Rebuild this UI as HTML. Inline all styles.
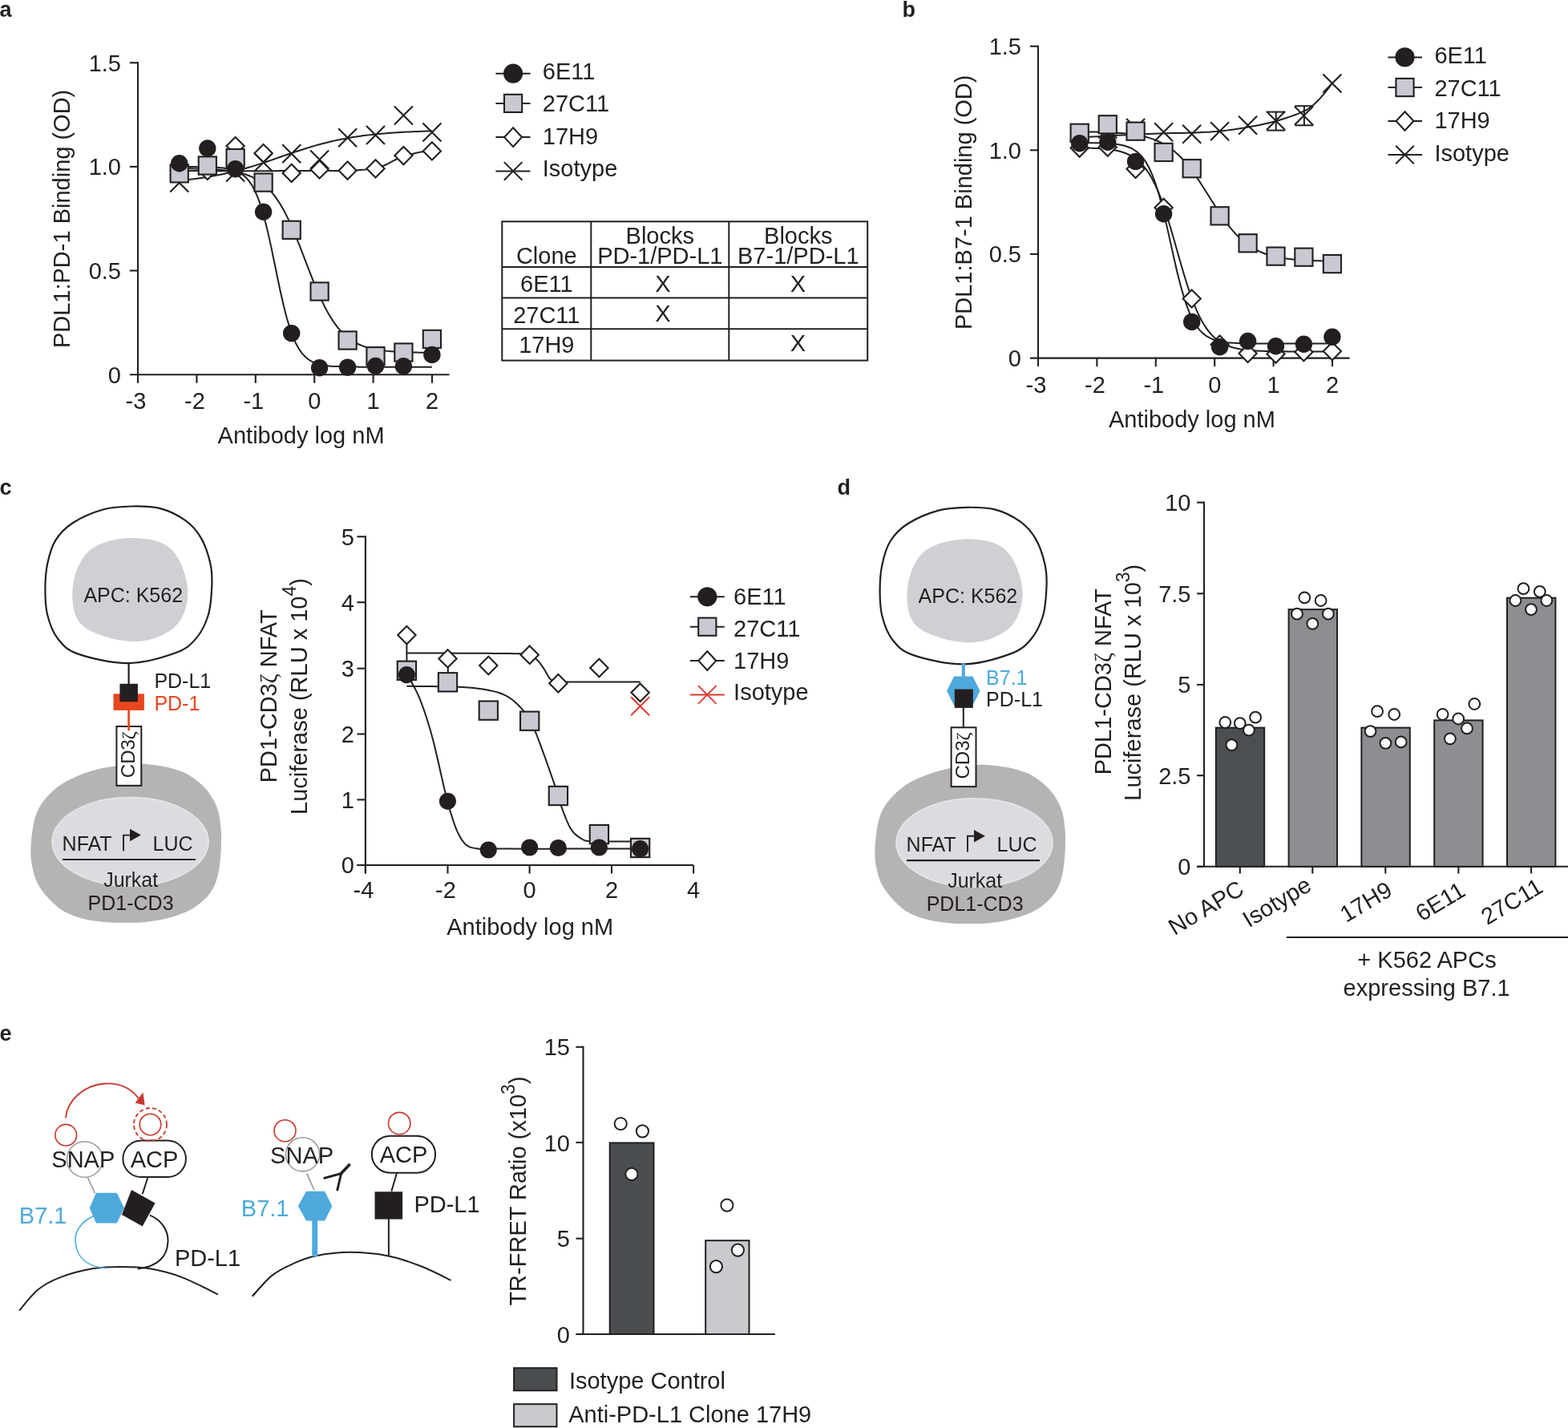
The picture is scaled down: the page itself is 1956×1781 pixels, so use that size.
<!DOCTYPE html><html><head><meta charset="utf-8"><style>html,body{margin:0;padding:0;background:#fff;}svg{display:block;}</style></head><body>
<svg width="1956" height="1781" viewBox="0 0 1956 1781" font-family='"Liberation Sans", Arial, Helvetica, sans-serif'>
<rect width="1956" height="1781" fill="#fff"/>
<text x="-0.5" y="20.8" font-size="27" text-anchor="start" fill="#231f20" font-weight="bold" >a</text>
<line x1="172" y1="77.3" x2="172" y2="477.7" stroke="#231f20" stroke-width="2.1" />
<line x1="161.9" y1="467.2" x2="560.5" y2="467.2" stroke="#231f20" stroke-width="2.1" />
<line x1="161.9" y1="78.3" x2="172" y2="78.3" stroke="#231f20" stroke-width="2.1" />
<line x1="161.9" y1="207.9" x2="172" y2="207.9" stroke="#231f20" stroke-width="2.1" />
<line x1="161.9" y1="337.5" x2="172" y2="337.5" stroke="#231f20" stroke-width="2.1" />
<line x1="245.4" y1="467.2" x2="245.4" y2="477.7" stroke="#231f20" stroke-width="2.1" />
<line x1="318.8" y1="467.2" x2="318.8" y2="477.7" stroke="#231f20" stroke-width="2.1" />
<line x1="392.2" y1="467.2" x2="392.2" y2="477.7" stroke="#231f20" stroke-width="2.1" />
<line x1="465.6" y1="467.2" x2="465.6" y2="477.7" stroke="#231f20" stroke-width="2.1" />
<line x1="539" y1="467.2" x2="539" y2="477.7" stroke="#231f20" stroke-width="2.1" />
<text x="151" y="88.7" font-size="29" text-anchor="end" fill="#231f20" >1.5</text>
<text x="151" y="218.3" font-size="29" text-anchor="end" fill="#231f20" >1.0</text>
<text x="151" y="347.9" font-size="29" text-anchor="end" fill="#231f20" >0.5</text>
<text x="151" y="477.6" font-size="29" text-anchor="end" fill="#231f20" >0</text>
<text x="169.5" y="510.1" font-size="29" text-anchor="middle" fill="#231f20" >-3</text>
<text x="242.9" y="510.1" font-size="29" text-anchor="middle" fill="#231f20" >-2</text>
<text x="316.3" y="510.1" font-size="29" text-anchor="middle" fill="#231f20" >-1</text>
<text x="392.2" y="510.1" font-size="29" text-anchor="middle" fill="#231f20" >0</text>
<text x="465.6" y="510.1" font-size="29" text-anchor="middle" fill="#231f20" >1</text>
<text x="539" y="510.1" font-size="29" text-anchor="middle" fill="#231f20" >2</text>
<text x="375.6" y="553.4" font-size="29" text-anchor="middle" fill="#231f20" >Antibody log nM</text>
<path d="M223.7 225.14L227.64 224.76L231.58 224.36L235.52 223.93L239.46 223.47L243.4 222.98L247.34 222.45L251.28 221.9L255.22 221.3L259.16 220.67L263.1 220.01L267.04 219.3L270.98 218.55L274.92 217.77L278.86 216.94L282.8 216.07L286.74 215.15L290.68 214.2L294.62 213.2L298.56 212.16L302.5 211.08L306.44 209.96L310.38 208.8L314.32 207.61L318.26 206.38L322.2 205.12L326.14 203.84L330.08 202.53L334.02 201.2L337.96 199.86L341.9 198.5L345.84 197.13L349.78 195.76L353.72 194.4L357.66 193.03L361.6 191.68L365.54 190.34L369.48 189.02L373.42 187.72L377.36 186.44L381.3 185.19L385.24 183.98L389.18 182.8L393.12 181.65L397.06 180.55L401 179.48L404.94 178.45L408.88 177.47L412.82 176.53L416.76 175.63L420.7 174.77L424.64 173.96L428.58 173.18L432.52 172.45L436.46 171.76L440.4 171.1L444.34 170.49L448.28 169.91L452.22 169.36L456.16 168.85L460.1 168.37L464.04 167.92L467.98 167.5L471.92 167.1L475.86 166.74L479.8 166.39L483.74 166.07L487.68 165.78L491.62 165.5L495.56 165.24L499.5 165L503.44 164.78L507.38 164.57L511.32 164.38L515.26 164.2L519.2 164.04L523.14 163.88L527.08 163.74L531.02 163.61L534.96 163.49L538.9 163.37" fill="none" stroke="#231f20" stroke-width="2" stroke-linejoin="round"/>
<path d="M223.7 213L232.02 213.04L243.55 213.1L257.2 213.17L271.88 213.23L286.51 213.28L300 213.3L312.85 213.28L326.02 213.23L339.14 213.17L351.83 213.1L363.71 213.04L374.4 213L383.84 212.99L392.32 213L399.99 213.03L406.99 213.04L413.48 213.04L419.6 213L425.23 212.94L430.24 212.86L434.74 212.76L438.82 212.64L442.61 212.49L446.2 212.3L449.44 212.09L452.21 211.87L454.67 211.62L457.01 211.32L459.4 210.95L462 210.5L464.85 209.97L467.83 209.37L470.86 208.71L473.84 207.98L476.72 207.18L479.4 206.3L481.88 205.29L484.21 204.14L486.43 202.92L488.57 201.69L490.65 200.53L492.7 199.5L494.7 198.6L496.61 197.79L498.48 197.03L500.31 196.33L502.14 195.65L504 195L505.88 194.37L507.74 193.78L509.61 193.22L511.48 192.7L513.38 192.19L515.3 191.7L517.26 191.22L519.26 190.75L521.28 190.31L523.3 189.89L525.32 189.52L527.3 189.2L529.39 188.93L531.63 188.72L533.85 188.54L535.91 188.4L537.64 188.29L538.9 188.2" fill="none" stroke="#231f20" stroke-width="2" stroke-linejoin="round"/>
<path d="M223.7 210.18L227.64 210.22L231.58 210.26L235.52 210.31L239.46 210.37L243.4 210.44L247.34 210.53L251.28 210.63L255.22 210.76L259.16 210.91L263.1 211.08L267.04 211.29L270.98 211.54L274.92 211.85L278.86 212.2L282.8 212.63L286.74 213.14L290.68 213.75L294.62 214.47L298.56 215.32L302.5 216.34L306.44 217.54L310.38 218.96L314.32 220.64L318.26 222.61L322.2 224.92L326.14 227.62L330.08 230.77L334.02 234.41L337.96 238.6L341.9 243.4L345.84 248.84L349.78 254.97L353.72 261.8L357.66 269.34L361.6 277.56L365.54 286.41L369.48 295.8L373.42 305.64L377.36 315.77L381.3 326.05L385.24 336.31L389.18 346.39L393.12 356.14L397.06 365.43L401 374.16L404.94 382.25L408.88 389.64L412.82 396.33L416.76 402.32L420.7 407.63L424.64 412.3L428.58 416.37L432.52 419.91L436.46 422.96L440.4 425.58L444.34 427.82L448.28 429.73L452.22 431.35L456.16 432.72L460.1 433.88L464.04 434.86L467.98 435.69L471.92 436.39L475.86 436.97L479.8 437.46L483.74 437.87L487.68 438.22L491.62 438.51L495.56 438.75L499.5 438.96L503.44 439.13L507.38 439.27L511.32 439.39L515.26 439.49L519.2 439.57L523.14 439.64L527.08 439.7L531.02 439.75L534.96 439.79L538.9 439.83" fill="none" stroke="#231f20" stroke-width="2" stroke-linejoin="round"/>
<path d="M223.7 208.02L227.64 208.03L231.58 208.04L235.52 208.05L239.46 208.07L243.4 208.1L247.34 208.13L251.28 208.18L255.22 208.25L259.16 208.34L263.1 208.46L267.04 208.62L270.98 208.85L274.92 209.16L278.86 209.57L282.8 210.14L286.74 210.9L290.68 211.93L294.62 213.33L298.56 215.2L302.5 217.71L306.44 221.04L310.38 225.43L314.32 231.15L318.26 238.51L322.2 247.8L326.14 259.25L330.08 272.98L334.02 288.89L337.96 306.61L341.9 325.51L345.84 344.76L349.78 363.45L353.72 380.79L357.66 396.2L361.6 409.38L365.54 420.3L369.48 429.11L373.42 436.05L377.36 441.43L381.3 445.54L385.24 448.66L389.18 451L393.12 452.74L397.06 454.04L401 455L404.94 455.72L408.88 456.24L412.82 456.63L416.76 456.91L420.7 457.12L424.64 457.27L428.58 457.39L432.52 457.47L436.46 457.53L440.4 457.58L444.34 457.61L448.28 457.63L452.22 457.65L456.16 457.66L460.1 457.67L464.04 457.68L467.98 457.69L471.92 457.69L475.86 457.69L479.8 457.69L483.74 457.7L487.68 457.7L491.62 457.7L495.56 457.7L499.5 457.7L503.44 457.7L507.38 457.7L511.32 457.7L515.26 457.7L519.2 457.7L523.14 457.7L527.08 457.7L531.02 457.7L534.96 457.7L538.9 457.7" fill="none" stroke="#231f20" stroke-width="2" stroke-linejoin="round"/>
<path d="M212.2 216.5L235.2 239.5M212.2 239.5L235.2 216.5" stroke="#231f20" stroke-width="2.1" fill="none"/>
<path d="M247.3 195.5L270.3 218.5M247.3 218.5L270.3 195.5" stroke="#231f20" stroke-width="2.1" fill="none"/>
<path d="M282.1 203.5L305.1 226.5M282.1 226.5L305.1 203.5" stroke="#231f20" stroke-width="2.1" fill="none"/>
<path d="M317.1 190.9L340.1 213.9M317.1 213.9L340.1 190.9" stroke="#231f20" stroke-width="2.1" fill="none"/>
<path d="M352.2 180.2L375.2 203.2M352.2 203.2L375.2 180.2" stroke="#231f20" stroke-width="2.1" fill="none"/>
<path d="M387.1 187.5L410.1 210.5M387.1 210.5L410.1 187.5" stroke="#231f20" stroke-width="2.1" fill="none"/>
<path d="M422.1 160.3L445.1 183.3M422.1 183.3L445.1 160.3" stroke="#231f20" stroke-width="2.1" fill="none"/>
<path d="M457 157L480 180M457 180L480 157" stroke="#231f20" stroke-width="2.1" fill="none"/>
<path d="M491.9 132.4L514.9 155.4M491.9 155.4L514.9 132.4" stroke="#231f20" stroke-width="2.1" fill="none"/>
<path d="M527.4 153.6L550.4 176.6M527.4 176.6L550.4 153.6" stroke="#231f20" stroke-width="2.1" fill="none"/>
<path d="M223.7 201.9L234.8 213L223.7 224.1L212.6 213Z" fill="#fff" stroke="#231f20" stroke-width="2.1" stroke-linejoin="miter"/>
<path d="M258.8 201.9L269.9 213L258.8 224.1L247.7 213Z" fill="#fff" stroke="#231f20" stroke-width="2.1" stroke-linejoin="miter"/>
<path d="M293.6 170.9L304.7 182L293.6 193.1L282.5 182Z" fill="#fff" stroke="#231f20" stroke-width="2.1" stroke-linejoin="miter"/>
<path d="M328.6 180L339.7 191.1L328.6 202.2L317.5 191.1Z" fill="#fff" stroke="#231f20" stroke-width="2.1" stroke-linejoin="miter"/>
<path d="M363.7 204.8L374.8 215.9L363.7 227L352.6 215.9Z" fill="#fff" stroke="#231f20" stroke-width="2.1" stroke-linejoin="miter"/>
<path d="M398.6 200.3L409.7 211.4L398.6 222.5L387.5 211.4Z" fill="#fff" stroke="#231f20" stroke-width="2.1" stroke-linejoin="miter"/>
<path d="M433.6 201.6L444.7 212.7L433.6 223.8L422.5 212.7Z" fill="#fff" stroke="#231f20" stroke-width="2.1" stroke-linejoin="miter"/>
<path d="M468.5 199.2L479.6 210.3L468.5 221.4L457.4 210.3Z" fill="#fff" stroke="#231f20" stroke-width="2.1" stroke-linejoin="miter"/>
<path d="M503.4 183L514.5 194.1L503.4 205.2L492.3 194.1Z" fill="#fff" stroke="#231f20" stroke-width="2.1" stroke-linejoin="miter"/>
<path d="M538.9 177.3L550 188.4L538.9 199.5L527.8 188.4Z" fill="#fff" stroke="#231f20" stroke-width="2.1" stroke-linejoin="miter"/>
<rect x="212.6" y="205.2" width="22.2" height="22.2" fill="#c9c9d1" stroke="#231f20" stroke-width="2.1"/>
<rect x="247.7" y="195.4" width="22.2" height="22.2" fill="#c9c9d1" stroke="#231f20" stroke-width="2.1"/>
<rect x="282.5" y="186" width="22.2" height="22.2" fill="#c9c9d1" stroke="#231f20" stroke-width="2.1"/>
<rect x="317.5" y="216.5" width="22.2" height="22.2" fill="#c9c9d1" stroke="#231f20" stroke-width="2.1"/>
<rect x="352.6" y="275.7" width="22.2" height="22.2" fill="#c9c9d1" stroke="#231f20" stroke-width="2.1"/>
<rect x="387.5" y="352.4" width="22.2" height="22.2" fill="#c9c9d1" stroke="#231f20" stroke-width="2.1"/>
<rect x="422.5" y="413.4" width="22.2" height="22.2" fill="#c9c9d1" stroke="#231f20" stroke-width="2.1"/>
<rect x="457.4" y="433.1" width="22.2" height="22.2" fill="#c9c9d1" stroke="#231f20" stroke-width="2.1"/>
<rect x="492.3" y="428.4" width="22.2" height="22.2" fill="#c9c9d1" stroke="#231f20" stroke-width="2.1"/>
<rect x="527.8" y="411.8" width="22.2" height="22.2" fill="#c9c9d1" stroke="#231f20" stroke-width="2.1"/>
<circle cx="223.7" cy="203.7" r="10.7" fill="#231f20"/>
<circle cx="258.8" cy="185" r="10.7" fill="#231f20"/>
<circle cx="293.6" cy="210.7" r="10.7" fill="#231f20"/>
<circle cx="328.6" cy="264.2" r="10.7" fill="#231f20"/>
<circle cx="363.7" cy="415.6" r="10.7" fill="#231f20"/>
<circle cx="398.6" cy="458.8" r="10.7" fill="#231f20"/>
<circle cx="433.6" cy="458.1" r="10.7" fill="#231f20"/>
<circle cx="468.5" cy="456.5" r="10.7" fill="#231f20"/>
<circle cx="503.4" cy="456.8" r="10.7" fill="#231f20"/>
<circle cx="538.9" cy="442.4" r="10.7" fill="#231f20"/>
<text x="0" y="0" font-size="29" text-anchor="middle" fill="#231f20" transform="translate(87.1,272.9) rotate(-90)" >PDL1:PD-1 Binding (OD)</text>
<line x1="618.4" y1="91.7" x2="661.5" y2="91.7" stroke="#231f20" stroke-width="2" />
<circle cx="640.1" cy="91.7" r="12.1" fill="#231f20"/>
<text x="676.8" y="99.1" font-size="29" text-anchor="start" fill="#231f20" >6E11</text>
<line x1="618.4" y1="128.9" x2="661.5" y2="128.9" stroke="#231f20" stroke-width="2" />
<rect x="629" y="117.8" width="22.2" height="22.2" fill="#c9c9d1" stroke="#231f20" stroke-width="2.1"/>
<text x="676.8" y="139.4" font-size="29" text-anchor="start" fill="#231f20" >27C11</text>
<line x1="618.4" y1="171.1" x2="661.5" y2="171.1" stroke="#231f20" stroke-width="2" />
<path d="M640.1 159.3L651 171.1L640.1 182.9L629.2 171.1Z" fill="#fff" stroke="#231f20" stroke-width="2.1" stroke-linejoin="miter"/>
<text x="676.8" y="180" font-size="29" text-anchor="start" fill="#231f20" >17H9</text>
<line x1="618.4" y1="213.4" x2="661.5" y2="213.4" stroke="#231f20" stroke-width="2" />
<path d="M628.8 202.1L651.4 224.7M628.8 224.7L651.4 202.1" stroke="#231f20" stroke-width="2" fill="none"/>
<text x="676.8" y="220.1" font-size="29" text-anchor="start" fill="#231f20" >Isotype</text>
<rect x="626.3" y="276.3" width="455.9" height="173.3" fill="none" stroke="#231f20" stroke-width="2"/>
<line x1="737.3" y1="276.3" x2="737.3" y2="449.6" stroke="#231f20" stroke-width="2" />
<line x1="909.3" y1="276.3" x2="909.3" y2="449.6" stroke="#231f20" stroke-width="2" />
<line x1="626.3" y1="333.1" x2="1082.2" y2="333.1" stroke="#231f20" stroke-width="2" />
<line x1="626.3" y1="371.5" x2="1082.2" y2="371.5" stroke="#231f20" stroke-width="2" />
<line x1="626.3" y1="410.3" x2="1082.2" y2="410.3" stroke="#231f20" stroke-width="2" />
<text x="681.8" y="328.9" font-size="29" text-anchor="middle" fill="#231f20" >Clone</text>
<text x="823.3" y="303.8" font-size="29" text-anchor="middle" fill="#231f20" >Blocks</text>
<text x="823.3" y="328.9" font-size="29" text-anchor="middle" fill="#231f20" >PD-1/PD-L1</text>
<text x="995.8" y="303.8" font-size="29" text-anchor="middle" fill="#231f20" >Blocks</text>
<text x="995.8" y="328.9" font-size="29" text-anchor="middle" fill="#231f20" >B7-1/PD-L1</text>
<text x="681.8" y="364" font-size="29" text-anchor="middle" fill="#231f20" >6E11</text>
<text x="681.8" y="403.3" font-size="29" text-anchor="middle" fill="#231f20" >27C11</text>
<text x="681.8" y="440.3" font-size="29" text-anchor="middle" fill="#231f20" >17H9</text>
<text x="827" y="364" font-size="29" text-anchor="middle" fill="#231f20" >X</text>
<text x="995.3" y="364" font-size="29" text-anchor="middle" fill="#231f20" >X</text>
<text x="827" y="400.5" font-size="29" text-anchor="middle" fill="#231f20" >X</text>
<text x="995.3" y="438" font-size="29" text-anchor="middle" fill="#231f20" >X</text>
<text x="1125.5" y="20.8" font-size="27" text-anchor="start" fill="#231f20" font-weight="bold" >b</text>
<line x1="1295" y1="56.7" x2="1295" y2="457.1" stroke="#231f20" stroke-width="2.1" />
<line x1="1284.9" y1="446.6" x2="1683.5" y2="446.6" stroke="#231f20" stroke-width="2.1" />
<line x1="1284.9" y1="57.7" x2="1295" y2="57.7" stroke="#231f20" stroke-width="2.1" />
<line x1="1284.9" y1="187.3" x2="1295" y2="187.3" stroke="#231f20" stroke-width="2.1" />
<line x1="1284.9" y1="316.9" x2="1295" y2="316.9" stroke="#231f20" stroke-width="2.1" />
<line x1="1368.4" y1="446.6" x2="1368.4" y2="457.1" stroke="#231f20" stroke-width="2.1" />
<line x1="1441.8" y1="446.6" x2="1441.8" y2="457.1" stroke="#231f20" stroke-width="2.1" />
<line x1="1515.2" y1="446.6" x2="1515.2" y2="457.1" stroke="#231f20" stroke-width="2.1" />
<line x1="1588.6" y1="446.6" x2="1588.6" y2="457.1" stroke="#231f20" stroke-width="2.1" />
<line x1="1662" y1="446.6" x2="1662" y2="457.1" stroke="#231f20" stroke-width="2.1" />
<text x="1274" y="68.1" font-size="29" text-anchor="end" fill="#231f20" >1.5</text>
<text x="1274" y="197.7" font-size="29" text-anchor="end" fill="#231f20" >1.0</text>
<text x="1274" y="327.3" font-size="29" text-anchor="end" fill="#231f20" >0.5</text>
<text x="1274" y="457" font-size="29" text-anchor="end" fill="#231f20" >0</text>
<text x="1292.5" y="489.5" font-size="29" text-anchor="middle" fill="#231f20" >-3</text>
<text x="1365.9" y="489.5" font-size="29" text-anchor="middle" fill="#231f20" >-2</text>
<text x="1439.3" y="489.5" font-size="29" text-anchor="middle" fill="#231f20" >-1</text>
<text x="1515.2" y="489.5" font-size="29" text-anchor="middle" fill="#231f20" >0</text>
<text x="1588.6" y="489.5" font-size="29" text-anchor="middle" fill="#231f20" >1</text>
<text x="1662" y="489.5" font-size="29" text-anchor="middle" fill="#231f20" >2</text>
<text x="1486.9" y="532.8" font-size="29" text-anchor="middle" fill="#231f20" >Antibody log nM</text>
<path d="M1346.7 171.5L1350.82 171.26L1356.32 170.94L1362.86 170.56L1370.13 170.14L1377.8 169.7L1385.55 169.26L1393.06 168.86L1400 168.5L1406.64 168.18L1413.39 167.86L1420.17 167.55L1426.89 167.26L1433.48 166.98L1439.83 166.73L1445.86 166.5L1451.5 166.3L1456.66 166.15L1461.41 166.05L1465.83 165.98L1470.03 165.94L1474.1 165.89L1478.14 165.83L1482.24 165.74L1486.5 165.6L1490.87 165.43L1495.25 165.26L1499.62 165.08L1503.99 164.87L1508.36 164.63L1512.74 164.34L1517.12 164L1521.5 163.6L1525.89 163.14L1530.29 162.62L1534.69 162.06L1539.1 161.45L1543.51 160.8L1547.91 160.1L1552.31 159.37L1556.7 158.6L1561.08 157.81L1565.46 157L1569.83 156.16L1574.2 155.27L1578.57 154.32L1582.94 153.31L1587.32 152.2L1591.7 151L1596.21 149.68L1600.89 148.25L1605.64 146.74L1610.36 145.15L1614.94 143.51L1619.3 141.85L1623.32 140.17L1626.9 138.5L1629.99 136.86L1632.66 135.25L1635.01 133.62L1637.12 131.97L1639.08 130.26L1640.99 128.46L1642.93 126.55L1645 124.5L1647.25 122.15L1649.62 119.45L1652.03 116.56L1654.38 113.62L1656.59 110.8L1658.57 108.23L1660.24 106.08L1661.5 104.5" fill="none" stroke="#231f20" stroke-width="2" stroke-linejoin="round"/>
<path d="M1346.7 164.27L1350.63 164.31L1354.57 164.36L1358.51 164.43L1362.44 164.5L1366.38 164.58L1370.31 164.68L1374.25 164.79L1378.18 164.93L1382.12 165.08L1386.05 165.26L1389.99 165.47L1393.92 165.72L1397.86 166.01L1401.79 166.34L1405.73 166.73L1409.66 167.18L1413.6 167.71L1417.53 168.32L1421.47 169.02L1425.4 169.84L1429.34 170.79L1433.27 171.88L1437.2 173.14L1441.14 174.58L1445.08 176.23L1449.01 178.12L1452.94 180.27L1456.88 182.7L1460.82 185.44L1464.75 188.52L1468.68 191.94L1472.62 195.74L1476.56 199.92L1480.49 204.47L1484.42 209.39L1488.36 214.67L1492.3 220.25L1496.23 226.12L1500.16 232.19L1504.1 238.43L1508.04 244.73L1511.97 251.05L1515.9 257.29L1519.84 263.38L1523.78 269.26L1527.71 274.88L1531.64 280.18L1535.58 285.13L1539.52 289.72L1543.45 293.92L1547.38 297.75L1551.32 301.21L1555.26 304.31L1559.19 307.08L1563.12 309.54L1567.06 311.71L1571 313.62L1574.93 315.29L1578.87 316.75L1582.8 318.02L1586.73 319.13L1590.67 320.08L1594.61 320.91L1598.54 321.63L1602.47 322.25L1606.41 322.78L1610.35 323.24L1614.28 323.63L1618.22 323.97L1622.15 324.26L1626.09 324.51L1630.02 324.72L1633.95 324.91L1637.89 325.06L1641.83 325.2L1645.76 325.31L1649.69 325.41L1653.63 325.5L1657.57 325.57L1661.5 325.63" fill="none" stroke="#231f20" stroke-width="2" stroke-linejoin="round"/>
<path d="M1346.7 184.3L1350.63 184.37L1354.57 184.47L1358.51 184.58L1362.44 184.72L1366.38 184.9L1370.31 185.11L1374.25 185.38L1378.18 185.72L1382.12 186.14L1386.05 186.65L1389.99 187.29L1393.92 188.09L1397.86 189.06L1401.79 190.27L1405.73 191.76L1409.66 193.58L1413.6 195.81L1417.53 198.54L1421.47 201.84L1425.4 205.82L1429.34 210.6L1433.27 216.27L1437.2 222.95L1441.14 230.72L1445.08 239.64L1449.01 249.73L1452.94 260.93L1456.88 273.15L1460.82 286.18L1464.75 299.79L1468.68 313.67L1472.62 327.49L1476.56 340.93L1480.49 353.71L1484.42 365.59L1488.36 376.41L1492.3 386.09L1496.23 394.61L1500.16 401.99L1504.1 408.31L1508.04 413.66L1511.97 418.15L1515.9 421.88L1519.84 424.97L1523.78 427.51L1527.71 429.6L1531.64 431.3L1535.58 432.68L1539.52 433.8L1543.45 434.71L1547.38 435.44L1551.32 436.04L1555.26 436.52L1559.19 436.9L1563.12 437.22L1567.06 437.47L1571 437.67L1574.93 437.83L1578.87 437.96L1582.8 438.07L1586.73 438.15L1590.67 438.22L1594.61 438.28L1598.54 438.32L1602.47 438.36L1606.41 438.38L1610.35 438.41L1614.28 438.42L1618.22 438.44L1622.15 438.45L1626.09 438.46L1630.02 438.47L1633.95 438.47L1637.89 438.48L1641.83 438.48L1645.76 438.49L1649.69 438.49L1653.63 438.49L1657.57 438.49L1661.5 438.49" fill="none" stroke="#231f20" stroke-width="2" stroke-linejoin="round"/>
<path d="M1346.7 178.07L1350.63 178.09L1354.57 178.12L1358.51 178.16L1362.44 178.21L1366.38 178.28L1370.31 178.37L1374.25 178.49L1378.18 178.65L1382.12 178.86L1386.05 179.15L1389.99 179.53L1393.92 180.03L1397.86 180.69L1401.79 181.56L1405.73 182.71L1409.66 184.23L1413.6 186.22L1417.53 188.81L1421.47 192.18L1425.4 196.51L1429.34 202.03L1433.27 208.98L1437.2 217.58L1441.14 228.04L1445.08 240.43L1449.01 254.72L1452.94 270.68L1456.88 287.85L1460.82 305.64L1464.75 323.33L1468.68 340.24L1472.62 355.79L1476.56 369.6L1480.49 381.49L1484.42 391.44L1488.36 399.59L1492.3 406.15L1496.23 411.33L1500.16 415.39L1504.1 418.54L1508.04 420.96L1511.97 422.81L1515.9 424.22L1519.84 425.29L1523.78 426.11L1527.71 426.72L1531.64 427.18L1535.58 427.53L1539.52 427.8L1543.45 428L1547.38 428.15L1551.32 428.26L1555.26 428.34L1559.19 428.41L1563.12 428.45L1567.06 428.49L1571 428.52L1574.93 428.54L1578.87 428.55L1582.8 428.57L1586.73 428.57L1590.67 428.58L1594.61 428.59L1598.54 428.59L1602.47 428.59L1606.41 428.59L1610.35 428.6L1614.28 428.6L1618.22 428.6L1622.15 428.6L1626.09 428.6L1630.02 428.6L1633.95 428.6L1637.89 428.6L1641.83 428.6L1645.76 428.6L1649.69 428.6L1653.63 428.6L1657.57 428.6L1661.5 428.6" fill="none" stroke="#231f20" stroke-width="2" stroke-linejoin="round"/>
<path d="M1335.2 154.5L1358.2 177.5M1335.2 177.5L1358.2 154.5" stroke="#231f20" stroke-width="2.1" fill="none"/>
<path d="M1370.3 149.5L1393.3 172.5M1370.3 172.5L1393.3 149.5" stroke="#231f20" stroke-width="2.1" fill="none"/>
<path d="M1405.1 148L1428.1 171M1405.1 171L1428.1 148" stroke="#231f20" stroke-width="2.1" fill="none"/>
<path d="M1440.1 153.2L1463.1 176.2M1440.1 176.2L1463.1 153.2" stroke="#231f20" stroke-width="2.1" fill="none"/>
<path d="M1475.2 155.7L1498.2 178.7M1475.2 178.7L1498.2 155.7" stroke="#231f20" stroke-width="2.1" fill="none"/>
<path d="M1510.1 152.2L1533.1 175.2M1510.1 175.2L1533.1 152.2" stroke="#231f20" stroke-width="2.1" fill="none"/>
<path d="M1545.1 144.8L1568.1 167.8M1545.1 167.8L1568.1 144.8" stroke="#231f20" stroke-width="2.1" fill="none"/>
<path d="M1580 139L1603 162M1580 162L1603 139" stroke="#231f20" stroke-width="2.1" fill="none"/>
<path d="M1614.9 132.7L1637.9 155.7M1614.9 155.7L1637.9 132.7" stroke="#231f20" stroke-width="2.1" fill="none"/>
<path d="M1650.4 92.4L1673.4 115.4M1650.4 115.4L1673.4 92.4" stroke="#231f20" stroke-width="2.1" fill="none"/>
<line x1="1591.7" y1="139.6" x2="1591.7" y2="162.6" stroke="#231f20" stroke-width="2" />
<line x1="1580.2" y1="139.6" x2="1603.2" y2="139.6" stroke="#231f20" stroke-width="2" />
<line x1="1580.2" y1="162.6" x2="1603.2" y2="162.6" stroke="#231f20" stroke-width="2" />
<line x1="1626.9" y1="132.2" x2="1626.9" y2="156.3" stroke="#231f20" stroke-width="2" />
<line x1="1615.4" y1="132.2" x2="1638.4" y2="132.2" stroke="#231f20" stroke-width="2" />
<line x1="1615.4" y1="156.3" x2="1638.4" y2="156.3" stroke="#231f20" stroke-width="2" />
<path d="M1346.7 173.5L1357.8 184.6L1346.7 195.7L1335.6 184.6Z" fill="#fff" stroke="#231f20" stroke-width="2.1" stroke-linejoin="miter"/>
<path d="M1381.8 172.5L1392.9 183.6L1381.8 194.7L1370.7 183.6Z" fill="#fff" stroke="#231f20" stroke-width="2.1" stroke-linejoin="miter"/>
<path d="M1416.6 199.7L1427.7 210.8L1416.6 221.9L1405.5 210.8Z" fill="#fff" stroke="#231f20" stroke-width="2.1" stroke-linejoin="miter"/>
<path d="M1451.6 247.8L1462.7 258.9L1451.6 270L1440.5 258.9Z" fill="#fff" stroke="#231f20" stroke-width="2.1" stroke-linejoin="miter"/>
<path d="M1486.7 361.4L1497.8 372.5L1486.7 383.6L1475.6 372.5Z" fill="#fff" stroke="#231f20" stroke-width="2.1" stroke-linejoin="miter"/>
<path d="M1521.6 418.6L1532.7 429.7L1521.6 440.8L1510.5 429.7Z" fill="#fff" stroke="#231f20" stroke-width="2.1" stroke-linejoin="miter"/>
<path d="M1556.6 429.7L1567.7 440.8L1556.6 451.9L1545.5 440.8Z" fill="#fff" stroke="#231f20" stroke-width="2.1" stroke-linejoin="miter"/>
<path d="M1591.5 430.5L1602.6 441.6L1591.5 452.7L1580.4 441.6Z" fill="#fff" stroke="#231f20" stroke-width="2.1" stroke-linejoin="miter"/>
<path d="M1626.4 428L1637.5 439.1L1626.4 450.2L1615.3 439.1Z" fill="#fff" stroke="#231f20" stroke-width="2.1" stroke-linejoin="miter"/>
<path d="M1661.9 427L1673 438.1L1661.9 449.2L1650.8 438.1Z" fill="#fff" stroke="#231f20" stroke-width="2.1" stroke-linejoin="miter"/>
<rect x="1335.6" y="154.7" width="22.2" height="22.2" fill="#c9c9d1" stroke="#231f20" stroke-width="2.1"/>
<rect x="1370.7" y="144.2" width="22.2" height="22.2" fill="#c9c9d1" stroke="#231f20" stroke-width="2.1"/>
<rect x="1405.5" y="152.6" width="22.2" height="22.2" fill="#c9c9d1" stroke="#231f20" stroke-width="2.1"/>
<rect x="1440.5" y="178.8" width="22.2" height="22.2" fill="#c9c9d1" stroke="#231f20" stroke-width="2.1"/>
<rect x="1475.6" y="199.1" width="22.2" height="22.2" fill="#c9c9d1" stroke="#231f20" stroke-width="2.1"/>
<rect x="1510.5" y="258.2" width="22.2" height="22.2" fill="#c9c9d1" stroke="#231f20" stroke-width="2.1"/>
<rect x="1545.5" y="292.2" width="22.2" height="22.2" fill="#c9c9d1" stroke="#231f20" stroke-width="2.1"/>
<rect x="1580.4" y="308.5" width="22.2" height="22.2" fill="#c9c9d1" stroke="#231f20" stroke-width="2.1"/>
<rect x="1615.3" y="309.6" width="22.2" height="22.2" fill="#c9c9d1" stroke="#231f20" stroke-width="2.1"/>
<rect x="1650.8" y="318" width="22.2" height="22.2" fill="#c9c9d1" stroke="#231f20" stroke-width="2.1"/>
<circle cx="1346.7" cy="178.8" r="10.7" fill="#231f20"/>
<circle cx="1381.8" cy="177.3" r="10.7" fill="#231f20"/>
<circle cx="1416.6" cy="201.4" r="10.7" fill="#231f20"/>
<circle cx="1451.6" cy="266.8" r="10.7" fill="#231f20"/>
<circle cx="1486.7" cy="401.4" r="10.7" fill="#231f20"/>
<circle cx="1521.6" cy="432.8" r="10.7" fill="#231f20"/>
<circle cx="1556.6" cy="425.5" r="10.7" fill="#231f20"/>
<circle cx="1591.5" cy="431.8" r="10.7" fill="#231f20"/>
<circle cx="1626.4" cy="429.3" r="10.7" fill="#231f20"/>
<circle cx="1661.9" cy="420.3" r="10.7" fill="#231f20"/>
<text x="0" y="0" font-size="29" text-anchor="middle" fill="#231f20" transform="translate(1212.1,252.3) rotate(-90)" >PDL1:B7-1 Binding (OD)</text>
<line x1="1731.5" y1="71.4" x2="1774" y2="71.4" stroke="#231f20" stroke-width="2" />
<circle cx="1752.5" cy="71.4" r="12.1" fill="#231f20"/>
<text x="1789.4" y="79.2" font-size="29" text-anchor="start" fill="#231f20" >6E11</text>
<line x1="1731.5" y1="109" x2="1774" y2="109" stroke="#231f20" stroke-width="2" />
<rect x="1741.4" y="97.9" width="22.2" height="22.2" fill="#c9c9d1" stroke="#231f20" stroke-width="2.1"/>
<text x="1789.4" y="120.2" font-size="29" text-anchor="start" fill="#231f20" >27C11</text>
<line x1="1731.5" y1="151" x2="1774" y2="151" stroke="#231f20" stroke-width="2" />
<path d="M1752.5 139.2L1763.4 151L1752.5 162.8L1741.6 151Z" fill="#fff" stroke="#231f20" stroke-width="2.1" stroke-linejoin="miter"/>
<text x="1789.4" y="159.8" font-size="29" text-anchor="start" fill="#231f20" >17H9</text>
<line x1="1731.5" y1="193" x2="1774" y2="193" stroke="#231f20" stroke-width="2" />
<path d="M1741.2 181.7L1763.8 204.3M1741.2 204.3L1763.8 181.7" stroke="#231f20" stroke-width="2" fill="none"/>
<text x="1789.4" y="200.5" font-size="29" text-anchor="start" fill="#231f20" >Isotype</text>
<text x="-0.5" y="617.3" font-size="27" text-anchor="start" fill="#231f20" font-weight="bold" >c</text>
<path d="M160 953.4C168.75 952.48 170.88 952.18 179.1 952.8C187.32 953.42 200.23 954.98 209.3 957.1C218.37 959.22 226.45 961.88 233.5 965.5C240.55 969.12 246.58 974.17 251.6 978.8C256.62 983.43 260.18 987.87 263.6 993.3C267.02 998.73 270.08 1004.37 272.1 1011.4C274.12 1018.43 275.1 1027.45 275.7 1035.5C276.3 1043.55 276.1 1051.65 275.7 1059.7C275.3 1067.75 274.5 1076.77 273.3 1083.8C272.1 1090.83 270.72 1096.47 268.5 1101.9C266.28 1107.33 263.83 1111.77 260 1116.4C256.17 1121.03 250.93 1125.88 245.5 1129.7C240.07 1133.52 234.43 1136.48 227.4 1139.3C220.37 1142.12 211.35 1144.78 203.3 1146.6C195.25 1148.42 186.32 1149.5 179.1 1150.2C171.88 1150.9 167.75 1150.8 160 1150.8C152.25 1150.8 142.2 1151.1 132.6 1150.2C123 1149.3 111.45 1147.82 102.4 1145.4C93.35 1142.98 85.33 1139.93 78.3 1135.7C71.27 1131.47 65.43 1125.63 60.2 1120C54.97 1114.37 50.12 1107.93 46.9 1101.9C43.68 1095.87 42.32 1089.83 40.9 1083.8C39.48 1077.77 38.6 1072.73 38.4 1065.7C38.2 1058.67 38.68 1049.65 39.7 1041.6C40.72 1033.55 42.1 1024.45 44.5 1017.4C46.9 1010.35 49.48 1005.33 54.1 999.3C58.72 993.27 65.15 986.43 72.2 981.2C79.25 975.97 87.33 971.72 96.4 967.9C105.47 964.08 116 960.72 126.6 958.3C137.2 955.88 151.25 954.32 160 953.4Z" fill="#b6b3b3"/>
<ellipse cx="162.5" cy="1049.8" rx="97.6" ry="55.3" fill="#dcdce0" stroke="#e8e8ea" stroke-width="1.5"/>
<text x="77.6" y="1061" font-size="25" text-anchor="start" fill="#231f20" >NFAT</text>
<text x="190.6" y="1061" font-size="25" text-anchor="start" fill="#231f20" >LUC</text>
<path d="M154 1061.2V1041.6H163" fill="none" stroke="#231f20" stroke-width="1.9"/>
<path d="M162 1033.8L175.9 1041.6L162 1049.2Z" fill="#231f20"/>
<line x1="78.1" y1="1072" x2="244" y2="1072" stroke="#231f20" stroke-width="2.2" />
<text x="163.2" y="1106.2" font-size="25" text-anchor="middle" fill="#231f20" >Jurkat</text>
<text x="163.1" y="1134.7" font-size="25" text-anchor="middle" fill="#231f20" >PD1-CD3</text>
<path d="M164.6 631.5C176.32 631.3 188.62 631.12 199.8 634.1C210.98 637.08 223.18 643.23 231.7 649.4C240.22 655.57 245.78 662.15 250.9 671.1C256.02 680.05 260.17 693.18 262.4 703.1C264.63 713.02 264.73 719.95 264.3 730.6C263.87 741.25 263.1 756.03 259.8 767C256.5 777.97 251.32 788.52 244.5 796.4C237.68 804.28 232.97 809.18 218.9 814.3C204.83 819.42 180.33 826.88 160.1 827.1C139.87 827.32 112.18 820.72 97.5 815.6C82.82 810.48 78.38 804.5 72 796.4C65.62 788.3 61.8 777.23 59.2 767C56.6 756.77 56.4 745.65 56.4 735C56.4 724.35 57.03 713.32 59.2 703.1C61.37 692.88 64.08 682.22 69.4 673.7C74.72 665.18 81.08 658.4 91.1 652C101.12 645.6 117.25 638.72 129.5 635.3C141.75 631.88 152.88 631.7 164.6 631.5Z" fill="#fff" stroke="#231f20" stroke-width="2.2"/>
<path d="M161.4 671.1C178.43 670.47 200.35 673.25 212.5 683.9C224.65 694.55 233.23 718.82 234.3 735C235.37 751.18 229.98 770.13 218.9 781C207.82 791.87 186.97 800.2 167.8 800.2C148.63 800.2 116.78 791.87 103.9 781C91.02 770.13 89.43 750.55 90.5 735C91.57 719.45 98.48 698.35 110.3 687.7C122.12 677.05 144.37 671.73 161.4 671.1Z" fill="#d0d0d4"/>
<text x="104.4" y="750.6" font-size="25" text-anchor="start" fill="#231f20" >APC: K562</text>
<line x1="160.6" y1="826" x2="160.6" y2="853.5" stroke="#231f20" stroke-width="2.2" />
<rect x="145.4" y="906" width="30.9" height="73.8" fill="#fff" stroke="#231f20" stroke-width="2"/>
<rect x="141.5" y="865.3" width="38.4" height="20.6" fill="#e8461f"/>
<rect x="149.4" y="852.8" width="22.5" height="22.4" fill="#231f20"/>
<line x1="160.6" y1="885" x2="160.6" y2="911.2" stroke="#e8461f" stroke-width="2.7" />
<text x="192.4" y="858.4" font-size="25" text-anchor="start" fill="#231f20" >PD-L1</text>
<text x="192.4" y="885.9" font-size="25" text-anchor="start" fill="#e8461f" >PD-1</text>
<text x="0" y="0" font-size="24" text-anchor="middle" fill="#231f20" transform="translate(167.6,941.2) rotate(-90)" >CD3<tspan font-family="Liberation Serif, serif">ζ</tspan></text>
<line x1="455.9" y1="668.3" x2="455.9" y2="1089.5" stroke="#231f20" stroke-width="2.1" />
<line x1="445.4" y1="1079" x2="865.1" y2="1079" stroke="#231f20" stroke-width="2.1" />
<line x1="445.4" y1="1079" x2="455.9" y2="1079" stroke="#231f20" stroke-width="2.1" />
<text x="441.8" y="1089.4" font-size="29" text-anchor="end" fill="#231f20" >0</text>
<line x1="445.4" y1="997.4" x2="455.9" y2="997.4" stroke="#231f20" stroke-width="2.1" />
<text x="441.8" y="1007.8" font-size="29" text-anchor="end" fill="#231f20" >1</text>
<line x1="445.4" y1="915.5" x2="455.9" y2="915.5" stroke="#231f20" stroke-width="2.1" />
<text x="441.8" y="925.9" font-size="29" text-anchor="end" fill="#231f20" >2</text>
<line x1="445.4" y1="833.7" x2="455.9" y2="833.7" stroke="#231f20" stroke-width="2.1" />
<text x="441.8" y="844.1" font-size="29" text-anchor="end" fill="#231f20" >3</text>
<line x1="445.4" y1="751.2" x2="455.9" y2="751.2" stroke="#231f20" stroke-width="2.1" />
<text x="441.8" y="761.6" font-size="29" text-anchor="end" fill="#231f20" >4</text>
<line x1="445.4" y1="669.3" x2="455.9" y2="669.3" stroke="#231f20" stroke-width="2.1" />
<text x="441.8" y="679.7" font-size="29" text-anchor="end" fill="#231f20" >5</text>
<line x1="455.9" y1="1079" x2="455.9" y2="1089.5" stroke="#231f20" stroke-width="2.1" />
<text x="453.4" y="1120.3" font-size="29" text-anchor="middle" fill="#231f20" >-4</text>
<line x1="558.5" y1="1079" x2="558.5" y2="1089.5" stroke="#231f20" stroke-width="2.1" />
<text x="556" y="1120.3" font-size="29" text-anchor="middle" fill="#231f20" >-2</text>
<line x1="660.6" y1="1079" x2="660.6" y2="1089.5" stroke="#231f20" stroke-width="2.1" />
<text x="660.6" y="1120.3" font-size="29" text-anchor="middle" fill="#231f20" >0</text>
<line x1="763" y1="1079" x2="763" y2="1089.5" stroke="#231f20" stroke-width="2.1" />
<text x="763" y="1120.3" font-size="29" text-anchor="middle" fill="#231f20" >2</text>
<line x1="865.1" y1="1079" x2="865.1" y2="1089.5" stroke="#231f20" stroke-width="2.1" />
<text x="865.1" y="1120.3" font-size="29" text-anchor="middle" fill="#231f20" >4</text>
<text x="661.2" y="1166.4" font-size="29" text-anchor="middle" fill="#231f20" >Antibody log nM</text>
<text x="0" y="0" font-size="29" text-anchor="middle" fill="#231f20" transform="translate(345.3,868.3) rotate(-90)" >PD1-CD3<tspan font-family="Liberation Serif, serif">ζ</tspan> NFAT</text>
<text x="0" y="0" font-size="29" text-anchor="middle" fill="#231f20" transform="translate(382.6,868.5) rotate(-90)" >Luciferase (RLU x 10<tspan font-size="23" dy="-14">4</tspan><tspan dy="14">)</tspan></text>
<path d="M507.4 843.5L507.83 843.97L508.36 844.46L508.99 845.04L509.71 845.76L510.53 846.66L511.43 847.82L512.42 849.28L513.5 851.1L514.69 853.24L516 855.62L517.41 858.25L518.9 861.16L520.46 864.36L522.05 867.85L523.68 871.66L525.3 875.8L526.94 880.24L528.63 884.95L530.35 889.96L532.11 895.28L533.9 900.93L535.72 906.92L537.55 913.27L539.4 920L541.33 927.52L543.38 935.98L545.5 945.04L547.61 954.32L549.68 963.48L551.63 972.15L553.43 979.97L555 986.6L556.32 991.97L557.42 996.4L558.36 1000.09L559.19 1003.24L559.97 1006.05L560.74 1008.73L561.57 1011.48L562.5 1014.5L563.5 1017.71L564.52 1020.9L565.54 1024.03L566.59 1027.09L567.65 1030.05L568.74 1032.89L569.85 1035.58L571 1038.1L572.16 1040.47L573.33 1042.73L574.52 1044.87L575.74 1046.87L576.99 1048.72L578.3 1050.42L579.66 1051.95L581.1 1053.3L582.54 1054.44L583.96 1055.35L585.39 1056.09L586.89 1056.67L588.52 1057.14L590.31 1057.53L592.32 1057.87L594.6 1058.2L596.16 1058.47L596.52 1058.63L596.51 1058.7L596.97 1058.71L598.72 1058.68L602.59 1058.63L609.4 1058.6L620 1058.6L636.23 1058.62L658.1 1058.63L683.67 1058.63L710.99 1058.62L738.1 1058.62L763.08 1058.61L783.96 1058.6L798.8 1058.6" fill="none" stroke="#231f20" stroke-width="2" stroke-linejoin="round"/>
<path d="M507.4 855.8L512.61 855.86L519.76 855.92L528.28 855.98L537.64 856.07L547.28 856.18L556.64 856.34L565.16 856.54L572.3 856.8L578.21 857.11L583.48 857.46L588.22 857.84L592.54 858.27L596.53 858.74L600.3 859.27L603.95 859.86L607.6 860.5L611.14 861.18L614.44 861.87L617.53 862.61L620.45 863.4L623.23 864.28L625.91 865.25L628.52 866.35L631.1 867.6L633.63 869.01L636.07 870.58L638.43 872.27L640.69 874.06L642.86 875.93L644.93 877.84L646.91 879.77L648.8 881.7L650.56 883.62L652.19 885.57L653.71 887.54L655.15 889.56L656.52 891.63L657.86 893.75L659.17 895.94L660.5 898.2L661.73 900.3L662.81 902.14L663.8 903.91L664.79 905.81L665.85 908.02L667.06 910.74L668.48 914.17L670.2 918.5L672.33 924.06L674.83 930.8L677.59 938.35L680.48 946.37L683.37 954.47L686.13 962.31L688.65 969.5L690.8 975.7L692.55 980.94L694.02 985.59L695.28 989.77L696.4 993.59L697.45 997.17L698.5 1000.64L699.63 1004.11L700.9 1007.7L702.28 1011.42L703.69 1015.16L705.13 1018.86L706.59 1022.46L708.08 1025.91L709.59 1029.14L711.13 1032.09L712.7 1034.7L714.33 1036.97L716.04 1038.93L717.79 1040.64L719.56 1042.12L721.31 1043.42L723.02 1044.55L724.66 1045.57L726.2 1046.5L727.53 1047.28L728.65 1047.85L729.64 1048.25L730.61 1048.52L731.67 1048.7L732.9 1048.83L734.41 1048.95L736.3 1049.1L738.51 1049.25L740.91 1049.34L743.53 1049.39L746.36 1049.41L749.41 1049.41L752.69 1049.4L756.22 1049.39L760 1049.4L764.39 1049.41L769.55 1049.42L775.15 1049.42L780.88 1049.42L786.43 1049.41L791.47 1049.41L795.7 1049.4L798.8 1049.4" fill="none" stroke="#231f20" stroke-width="2" stroke-linejoin="round"/>
<path d="M507.4 814.5L513.04 814.51L520.56 814.53L529.53 814.54L539.47 814.56L549.95 814.59L560.5 814.62L570.67 814.65L580 814.7L589.07 814.75L598.55 814.8L608.14 814.85L617.56 814.91L626.51 814.98L634.7 815.06L641.83 815.17L647.6 815.3L651.81 815.43L654.64 815.55L656.4 815.67L657.41 815.82L657.96 816.01L658.37 816.25L658.95 816.58L660 817L661.37 817.5L662.69 818.07L663.97 818.7L665.21 819.39L666.42 820.16L667.6 821L668.76 821.91L669.9 822.9L671.01 823.99L672.1 825.19L673.15 826.48L674.17 827.83L675.18 829.23L676.17 830.66L677.14 832.09L678.1 833.5L679.05 834.97L679.99 836.54L680.92 838.17L681.83 839.79L682.72 841.37L683.58 842.85L684.41 844.18L685.2 845.3L685.92 846.22L686.55 846.98L687.13 847.62L687.7 848.14L688.28 848.57L688.92 848.95L689.65 849.28L690.5 849.6L691.21 849.87L691.63 850.06L691.98 850.19L692.46 850.26L693.29 850.31L694.68 850.33L696.85 850.36L700 850.4L704.32 850.45L709.68 850.48L715.84 850.49L722.54 850.5L729.56 850.5L736.64 850.5L743.53 850.5L750 850.5L756.49 850.5L763.43 850.51L770.53 850.51L777.52 850.51L784.13 850.5L790.06 850.5L795.04 850.5L798.8 850.5" fill="none" stroke="#231f20" stroke-width="2" stroke-linejoin="round"/>
<line x1="507.4" y1="792" x2="507.4" y2="832" stroke="#231f20" stroke-width="2" />
<line x1="558.8" y1="822" x2="558.8" y2="840" stroke="#231f20" stroke-width="2" />
<path d="M507.4 780.9L518.6 792.1L507.4 803.3L496.2 792.1Z" fill="#fff" stroke="#231f20" stroke-width="2.1" stroke-linejoin="miter"/>
<path d="M558.5 810.2L569.7 821.4L558.5 832.6L547.3 821.4Z" fill="#fff" stroke="#231f20" stroke-width="2.1" stroke-linejoin="miter"/>
<path d="M609.3 818.8L620.5 830L609.3 841.2L598.1 830Z" fill="#fff" stroke="#231f20" stroke-width="2.1" stroke-linejoin="miter"/>
<path d="M660.7 805.6L671.9 816.8L660.7 828L649.5 816.8Z" fill="#fff" stroke="#231f20" stroke-width="2.1" stroke-linejoin="miter"/>
<path d="M696.4 841.1L707.6 852.3L696.4 863.5L685.2 852.3Z" fill="#fff" stroke="#231f20" stroke-width="2.1" stroke-linejoin="miter"/>
<path d="M747.4 821.8L758.6 833L747.4 844.2L736.2 833Z" fill="#fff" stroke="#231f20" stroke-width="2.1" stroke-linejoin="miter"/>
<path d="M798.6 852.5L809.8 863.7L798.6 874.9L787.4 863.7Z" fill="#fff" stroke="#231f20" stroke-width="2.1" stroke-linejoin="miter"/>
<rect x="495.75" y="824.65" width="23.3" height="23.3" fill="#c9c9d1" stroke="#231f20" stroke-width="2.1"/>
<rect x="546.85" y="839.15" width="23.3" height="23.3" fill="#c9c9d1" stroke="#231f20" stroke-width="2.1"/>
<rect x="597.65" y="874.45" width="23.3" height="23.3" fill="#c9c9d1" stroke="#231f20" stroke-width="2.1"/>
<rect x="649.05" y="887.55" width="23.3" height="23.3" fill="#c9c9d1" stroke="#231f20" stroke-width="2.1"/>
<rect x="684.75" y="980.85" width="23.3" height="23.3" fill="#c9c9d1" stroke="#231f20" stroke-width="2.1"/>
<rect x="735.75" y="1028.95" width="23.3" height="23.3" fill="#c9c9d1" stroke="#231f20" stroke-width="2.1"/>
<rect x="786.95" y="1045.85" width="23.3" height="23.3" fill="#c9c9d1" stroke="#231f20" stroke-width="2.1"/>
<circle cx="507.4" cy="841.7" r="10.6" fill="#231f20"/>
<circle cx="558.5" cy="999.3" r="10.6" fill="#231f20"/>
<circle cx="609.3" cy="1060" r="10.6" fill="#231f20"/>
<circle cx="660.7" cy="1057" r="10.6" fill="#231f20"/>
<circle cx="696.4" cy="1057.5" r="10.6" fill="#231f20"/>
<circle cx="747.4" cy="1057" r="10.6" fill="#231f20"/>
<circle cx="798.6" cy="1058.7" r="10.6" fill="#231f20"/>
<path d="M787.1 869.2L810.1 892.2M787.1 892.2L810.1 869.2" stroke="#d93a30" stroke-width="2" fill="none"/>
<line x1="860.8" y1="744.3" x2="903.8" y2="744.3" stroke="#231f20" stroke-width="2" />
<circle cx="882.3" cy="744.3" r="12.1" fill="#231f20"/>
<text x="915.1" y="753.7" font-size="29" text-anchor="start" fill="#231f20" >6E11</text>
<line x1="860.8" y1="781.7" x2="903.8" y2="781.7" stroke="#231f20" stroke-width="2" />
<rect x="871.2" y="770.6" width="22.2" height="22.2" fill="#c9c9d1" stroke="#231f20" stroke-width="2.1"/>
<text x="915.1" y="794" font-size="29" text-anchor="start" fill="#231f20" >27C11</text>
<line x1="860.8" y1="824.1" x2="903.8" y2="824.1" stroke="#231f20" stroke-width="2" />
<path d="M882.3 812.3L893.2 824.1L882.3 835.9L871.4 824.1Z" fill="#fff" stroke="#231f20" stroke-width="2.1" stroke-linejoin="miter"/>
<text x="915.1" y="834.3" font-size="29" text-anchor="start" fill="#231f20" >17H9</text>
<line x1="860.8" y1="866.5" x2="903.8" y2="866.5" stroke="#d93a30" stroke-width="1.8" />
<path d="M871 855.2L893.6 877.8M871 877.8L893.6 855.2" stroke="#d93a30" stroke-width="1.8" fill="none"/>
<text x="915.1" y="873.2" font-size="29" text-anchor="start" fill="#231f20" >Isotype</text>
<text x="1044.5" y="617.3" font-size="27" text-anchor="start" fill="#231f20" font-weight="bold" >d</text>
<path d="M1213 954.6C1221.75 953.68 1223.88 953.38 1232.1 954C1240.32 954.62 1253.23 956.18 1262.3 958.3C1271.37 960.42 1279.45 963.08 1286.5 966.7C1293.55 970.32 1299.58 975.37 1304.6 980C1309.62 984.63 1313.18 989.07 1316.6 994.5C1320.02 999.93 1323.08 1005.57 1325.1 1012.6C1327.12 1019.63 1328.1 1028.65 1328.7 1036.7C1329.3 1044.75 1329.1 1052.85 1328.7 1060.9C1328.3 1068.95 1327.5 1077.97 1326.3 1085C1325.1 1092.03 1323.72 1097.67 1321.5 1103.1C1319.28 1108.53 1316.83 1112.97 1313 1117.6C1309.17 1122.23 1303.93 1127.08 1298.5 1130.9C1293.07 1134.72 1287.43 1137.68 1280.4 1140.5C1273.37 1143.32 1264.35 1145.98 1256.3 1147.8C1248.25 1149.62 1239.32 1150.7 1232.1 1151.4C1224.88 1152.1 1220.75 1152 1213 1152C1205.25 1152 1195.2 1152.3 1185.6 1151.4C1176 1150.5 1164.45 1149.02 1155.4 1146.6C1146.35 1144.18 1138.33 1141.13 1131.3 1136.9C1124.27 1132.67 1118.43 1126.83 1113.2 1121.2C1107.97 1115.57 1103.12 1109.13 1099.9 1103.1C1096.68 1097.07 1095.32 1091.03 1093.9 1085C1092.48 1078.97 1091.6 1073.93 1091.4 1066.9C1091.2 1059.87 1091.68 1050.85 1092.7 1042.8C1093.72 1034.75 1095.1 1025.65 1097.5 1018.6C1099.9 1011.55 1102.48 1006.53 1107.1 1000.5C1111.72 994.47 1118.15 987.63 1125.2 982.4C1132.25 977.17 1140.33 972.92 1149.4 969.1C1158.47 965.28 1169 961.92 1179.6 959.5C1190.2 957.08 1204.25 955.52 1213 954.6Z" fill="#b6b3b3"/>
<ellipse cx="1215.5" cy="1051" rx="97.6" ry="55.3" fill="#dcdce0" stroke="#e8e8ea" stroke-width="1.5"/>
<text x="1130.6" y="1062.2" font-size="25" text-anchor="start" fill="#231f20" >NFAT</text>
<text x="1243.6" y="1062.2" font-size="25" text-anchor="start" fill="#231f20" >LUC</text>
<path d="M1207 1062.4V1042.8H1216" fill="none" stroke="#231f20" stroke-width="1.9"/>
<path d="M1215 1035L1228.9 1042.8L1215 1050.4Z" fill="#231f20"/>
<line x1="1131.1" y1="1073.2" x2="1297" y2="1073.2" stroke="#231f20" stroke-width="2.2" />
<text x="1216.2" y="1107.4" font-size="25" text-anchor="middle" fill="#231f20" >Jurkat</text>
<text x="1216.1" y="1135.9" font-size="25" text-anchor="middle" fill="#231f20" >PDL1-CD3</text>
<path d="M1205.8 632.8C1217.52 632.6 1229.82 632.42 1241 635.4C1252.18 638.38 1264.38 644.53 1272.9 650.7C1281.42 656.87 1286.98 663.45 1292.1 672.4C1297.22 681.35 1301.37 694.48 1303.6 704.4C1305.83 714.32 1305.93 721.25 1305.5 731.9C1305.07 742.55 1304.3 757.33 1301 768.3C1297.7 779.27 1292.52 789.82 1285.7 797.7C1278.88 805.58 1274.17 810.48 1260.1 815.6C1246.03 820.72 1221.53 828.18 1201.3 828.4C1181.07 828.62 1153.38 822.02 1138.7 816.9C1124.02 811.78 1119.58 805.8 1113.2 797.7C1106.82 789.6 1103 778.53 1100.4 768.3C1097.8 758.07 1097.6 746.95 1097.6 736.3C1097.6 725.65 1098.23 714.62 1100.4 704.4C1102.57 694.18 1105.28 683.52 1110.6 675C1115.92 666.48 1122.28 659.7 1132.3 653.3C1142.32 646.9 1158.45 640.02 1170.7 636.6C1182.95 633.18 1194.08 633 1205.8 632.8Z" fill="#fff" stroke="#231f20" stroke-width="2.2"/>
<path d="M1202.6 672.4C1219.63 671.77 1241.55 674.55 1253.7 685.2C1265.85 695.85 1274.43 720.12 1275.5 736.3C1276.57 752.48 1271.18 771.43 1260.1 782.3C1249.02 793.17 1228.17 801.5 1209 801.5C1189.83 801.5 1157.98 793.17 1145.1 782.3C1132.22 771.43 1130.63 751.85 1131.7 736.3C1132.77 720.75 1139.68 699.65 1151.5 689C1163.32 678.35 1185.57 673.03 1202.6 672.4Z" fill="#d0d0d4"/>
<text x="1145.6" y="751.9" font-size="25" text-anchor="start" fill="#231f20" >APC: K562</text>
<line x1="1201.8" y1="827.3" x2="1201.8" y2="847.3" stroke="#4ea9dc" stroke-width="4" />
<rect x="1186.6" y="907.3" width="30.9" height="73.8" fill="#fff" stroke="#231f20" stroke-width="2"/>
<line x1="1201.8" y1="881.3" x2="1201.8" y2="907.3" stroke="#231f20" stroke-width="2" />
<path d="M1181.1 861.7L1190.2 843.5L1213.4 843.5L1222.5 861.7L1213.4 879.9L1190.2 879.9Z" fill="#4ea9dc"/>
<rect x="1190.8" y="859.6" width="23" height="23.3" fill="#231f20"/>
<text x="1230.1" y="853.6" font-size="25" text-anchor="start" fill="#4ea9dc" >B7.1</text>
<text x="1230.1" y="880.9" font-size="25" text-anchor="start" fill="#231f20" >PD-L1</text>
<text x="0" y="0" font-size="24" text-anchor="middle" fill="#231f20" transform="translate(1208.8,942.5) rotate(-90)" >CD3<tspan font-family="Liberation Serif, serif">ζ</tspan></text>
<line x1="1502" y1="625.7" x2="1502" y2="1080.8" stroke="#231f20" stroke-width="2.1" />
<line x1="1493.1" y1="1080.8" x2="1956" y2="1080.8" stroke="#231f20" stroke-width="2.1" />
<line x1="1493.1" y1="1080.8" x2="1502" y2="1080.8" stroke="#231f20" stroke-width="2.1" />
<text x="1485.5" y="1091.2" font-size="29" text-anchor="end" fill="#231f20" >0</text>
<line x1="1493.1" y1="967.2" x2="1502" y2="967.2" stroke="#231f20" stroke-width="2.1" />
<text x="1485.5" y="977.6" font-size="29" text-anchor="end" fill="#231f20" >2.5</text>
<line x1="1493.1" y1="853.9" x2="1502" y2="853.9" stroke="#231f20" stroke-width="2.1" />
<text x="1485.5" y="864.3" font-size="29" text-anchor="end" fill="#231f20" >5</text>
<line x1="1493.1" y1="740.3" x2="1502" y2="740.3" stroke="#231f20" stroke-width="2.1" />
<text x="1485.5" y="750.7" font-size="29" text-anchor="end" fill="#231f20" >7.5</text>
<line x1="1493.1" y1="626.7" x2="1502" y2="626.7" stroke="#231f20" stroke-width="2.1" />
<text x="1485.5" y="637.1" font-size="29" text-anchor="end" fill="#231f20" >10</text>
<rect x="1516.8" y="907.6" width="60.4" height="173.2" fill="#4c4f51" stroke="#231f20" stroke-width="2"/>
<rect x="1607.6" y="760.1" width="60.4" height="320.7" fill="#8c8e91" stroke="#231f20" stroke-width="2"/>
<rect x="1698.4" y="907.6" width="60.4" height="173.2" fill="#8c8e91" stroke="#231f20" stroke-width="2"/>
<rect x="1789.2" y="898.4" width="60.4" height="182.4" fill="#8c8e91" stroke="#231f20" stroke-width="2"/>
<rect x="1880" y="745.7" width="60.4" height="335.1" fill="#8c8e91" stroke="#231f20" stroke-width="2"/>
<line x1="1546.8" y1="1080.8" x2="1546.8" y2="1089.5" stroke="#231f20" stroke-width="2.1" />
<line x1="1637.3" y1="1080.8" x2="1637.3" y2="1089.5" stroke="#231f20" stroke-width="2.1" />
<line x1="1728.3" y1="1080.8" x2="1728.3" y2="1089.5" stroke="#231f20" stroke-width="2.1" />
<line x1="1819.4" y1="1080.8" x2="1819.4" y2="1089.5" stroke="#231f20" stroke-width="2.1" />
<line x1="1910.1" y1="1080.8" x2="1910.1" y2="1089.5" stroke="#231f20" stroke-width="2.1" />
<circle cx="1528.3" cy="901" r="6.9" fill="#fff" stroke="#231f20" stroke-width="2"/>
<circle cx="1546.8" cy="902.1" r="6.9" fill="#fff" stroke="#231f20" stroke-width="2"/>
<circle cx="1566.1" cy="894.7" r="6.9" fill="#fff" stroke="#231f20" stroke-width="2"/>
<circle cx="1557.9" cy="910.6" r="6.9" fill="#fff" stroke="#231f20" stroke-width="2"/>
<circle cx="1536.4" cy="929.1" r="6.9" fill="#fff" stroke="#231f20" stroke-width="2"/>
<circle cx="1627.3" cy="745.3" r="6.9" fill="#fff" stroke="#231f20" stroke-width="2"/>
<circle cx="1647.6" cy="749" r="6.9" fill="#fff" stroke="#231f20" stroke-width="2"/>
<circle cx="1618" cy="765.7" r="6.9" fill="#fff" stroke="#231f20" stroke-width="2"/>
<circle cx="1656.9" cy="765.7" r="6.9" fill="#fff" stroke="#231f20" stroke-width="2"/>
<circle cx="1637.3" cy="777.9" r="6.9" fill="#fff" stroke="#231f20" stroke-width="2"/>
<circle cx="1718.1" cy="887.2" r="6.9" fill="#fff" stroke="#231f20" stroke-width="2"/>
<circle cx="1739.2" cy="891" r="6.9" fill="#fff" stroke="#231f20" stroke-width="2"/>
<circle cx="1709.5" cy="912.1" r="6.9" fill="#fff" stroke="#231f20" stroke-width="2"/>
<circle cx="1728.4" cy="926.9" r="6.9" fill="#fff" stroke="#231f20" stroke-width="2"/>
<circle cx="1747.7" cy="925.4" r="6.9" fill="#fff" stroke="#231f20" stroke-width="2"/>
<circle cx="1799.6" cy="891" r="6.9" fill="#fff" stroke="#231f20" stroke-width="2"/>
<circle cx="1819.2" cy="896.5" r="6.9" fill="#fff" stroke="#231f20" stroke-width="2"/>
<circle cx="1839.3" cy="878" r="6.9" fill="#fff" stroke="#231f20" stroke-width="2"/>
<circle cx="1830" cy="908.4" r="6.9" fill="#fff" stroke="#231f20" stroke-width="2"/>
<circle cx="1808.9" cy="921.3" r="6.9" fill="#fff" stroke="#231f20" stroke-width="2"/>
<circle cx="1900.4" cy="734.2" r="6.9" fill="#fff" stroke="#231f20" stroke-width="2"/>
<circle cx="1920.8" cy="737.9" r="6.9" fill="#fff" stroke="#231f20" stroke-width="2"/>
<circle cx="1890.4" cy="749" r="6.9" fill="#fff" stroke="#231f20" stroke-width="2"/>
<circle cx="1929.3" cy="749" r="6.9" fill="#fff" stroke="#231f20" stroke-width="2"/>
<circle cx="1910" cy="760.1" r="6.9" fill="#fff" stroke="#231f20" stroke-width="2"/>
<text x="0" y="0" font-size="29" text-anchor="end" fill="#231f20" transform="translate(1553.7,1114) rotate(-31)" >No APC</text>
<text x="0" y="0" font-size="29" text-anchor="end" fill="#231f20" transform="translate(1637.9,1109.3) rotate(-31)" >Isotype</text>
<text x="0" y="0" font-size="29" text-anchor="end" fill="#231f20" transform="translate(1738.7,1115.5) rotate(-31)" >17H9</text>
<text x="0" y="0" font-size="29" text-anchor="end" fill="#231f20" transform="translate(1829.8,1115.9) rotate(-31)" >6E11</text>
<text x="0" y="0" font-size="29" text-anchor="end" fill="#231f20" transform="translate(1926.6,1111.4) rotate(-31)" >27C11</text>
<line x1="1604.9" y1="1168.9" x2="1956" y2="1168.9" stroke="#231f20" stroke-width="2" />
<text x="1780" y="1207.2" font-size="29" text-anchor="middle" fill="#231f20" >+ K562 APCs</text>
<text x="1779.6" y="1241.5" font-size="29" text-anchor="middle" fill="#231f20" >expressing B7.1</text>
<text x="0" y="0" font-size="29" text-anchor="middle" fill="#231f20" transform="translate(1385.6,850.1) rotate(-90)" >PDL1-CD3<tspan font-family="Liberation Serif, serif">ζ</tspan> NFAT</text>
<text x="0" y="0" font-size="29" text-anchor="middle" fill="#231f20" transform="translate(1423,851.2) rotate(-90)" >Luciferase (RLU x 10<tspan font-size="23" dy="-14">3</tspan><tspan dy="14">)</tspan></text>
<text x="-0.5" y="1298.3" font-size="27" text-anchor="start" fill="#231f20" font-weight="bold" >e</text>
<path d="M24.1 1634.5C28.02 1630.13 39.08 1615.2 47.6 1608.3C56.12 1601.4 63.7 1597.47 75.2 1593.1C86.7 1588.73 103.95 1584.28 116.6 1582.1C129.25 1579.92 139.58 1580 151.1 1580C162.62 1580 173.03 1579.92 185.7 1582.1C198.37 1584.28 212.73 1587.7 227.1 1593.1C241.47 1598.5 264.43 1610.93 271.9 1614.5" fill="none" stroke="#231f20" stroke-width="2"/>
<path d="M117 1516.5C100 1524 92 1538 94.3 1550C96 1568 108 1580 132.2 1581.6" fill="none" stroke="#4ea9dc" stroke-width="1.6"/>
<path d="M186.8 1515.7C202 1522 210 1535 209.5 1548.3C209 1566 198 1580 171.6 1582.4" fill="none" stroke="#231f20" stroke-width="2"/>
<line x1="109.4" y1="1468.7" x2="118.5" y2="1488.4" stroke="#9a9a9a" stroke-width="1.6" />
<line x1="184.5" y1="1468" x2="177.7" y2="1489.2" stroke="#231f20" stroke-width="2" />
<path d="M111.7 1506.6L120 1487.7L145.8 1487.7L154.9 1506.6L145.8 1525.6L120 1525.6Z" fill="#4ea9dc"/>
<path d="M164 1483.9L193.6 1500.5L177.7 1529.4L151.9 1514.9Z" fill="#231f20"/>
<circle cx="105.7" cy="1446" r="22.3" fill="none" stroke="#9a9a9a" stroke-width="1.6"/>
<text x="64.3" y="1455.8" font-size="29" text-anchor="start" fill="#231f20" >SNAP</text>
<rect x="153.4" y="1422.5" width="78.5" height="45.5" rx="22.75" fill="#fff" stroke="#231f20" stroke-width="2"/>
<text x="192.6" y="1455.8" font-size="29" text-anchor="middle" fill="#231f20" >ACP</text>
<circle cx="82.2" cy="1415.7" r="13.3" fill="none" stroke="#c8372d" stroke-width="1.6"/>
<circle cx="187.5" cy="1402.5" r="13.3" fill="none" stroke="#c8372d" stroke-width="1.6"/>
<circle cx="187.5" cy="1402.5" r="20.5" fill="none" stroke="#c8372d" stroke-width="1.8" stroke-dasharray="5 3.2"/>
<path d="M81.9 1394.4C84 1372 104 1354 130 1351.5C150 1350 164 1358 173 1370" fill="none" stroke="#c8372d" stroke-width="1.8"/>
<path d="M168.6 1375.5L180.7 1378.5L178.4 1362.6Z" fill="#c8372d"/>
<text x="23.8" y="1525.6" font-size="29" text-anchor="start" fill="#4ea9dc" >B7.1</text>
<text x="217.9" y="1578.6" font-size="29" text-anchor="start" fill="#231f20" >PD-L1</text>
<path d="M314.7 1616.8C318.83 1612.43 330.77 1597.5 339.5 1590.6C348.23 1583.7 358.13 1579.43 367.1 1575.4C376.07 1571.37 381.8 1568.67 393.3 1566.4C404.8 1564.13 420.9 1561.8 436.1 1561.8C451.3 1561.8 469.53 1563.45 484.5 1566.4C499.47 1569.35 512.9 1574.43 525.9 1579.5C538.9 1584.57 556.4 1593.92 562.5 1596.8" fill="none" stroke="#231f20" stroke-width="2"/>
<line x1="392.7" y1="1520" x2="392.7" y2="1567" stroke="#4ea9dc" stroke-width="6.9" />
<line x1="484.9" y1="1519" x2="484.9" y2="1566.5" stroke="#231f20" stroke-width="2" />
<line x1="382.8" y1="1463.6" x2="392" y2="1484.3" stroke="#9a9a9a" stroke-width="1.6" />
<line x1="495.1" y1="1462.8" x2="488.3" y2="1485.8" stroke="#231f20" stroke-width="2" />
<path d="M371.8 1504.2L382.1 1485.8L405.1 1485.8L414.3 1504.2L405.1 1522.6L382.1 1522.6Z" fill="#4ea9dc"/>
<rect x="467.5" y="1486.3" width="34.6" height="34.3" fill="#231f20"/>
<circle cx="377.5" cy="1439.8" r="21.1" fill="none" stroke="#9a9a9a" stroke-width="1.6"/>
<text x="337.1" y="1450.5" font-size="29" text-anchor="start" fill="#231f20" >SNAP</text>
<rect x="463.8" y="1416.8" width="79.3" height="46" rx="23" fill="#fff" stroke="#231f20" stroke-width="2"/>
<text x="503.5" y="1449.8" font-size="29" text-anchor="middle" fill="#231f20" >ACP</text>
<circle cx="355.5" cy="1410.2" r="13.5" fill="none" stroke="#c8372d" stroke-width="1.6"/>
<circle cx="498.2" cy="1401.1" r="13.7" fill="none" stroke="#c8372d" stroke-width="1.6"/>
<path d="M403.6 1469.6L425.6 1463.5L420.6 1485.1" fill="none" stroke="#231f20" stroke-width="2.9" stroke-linejoin="miter"/>
<path d="M424.6 1464.5L436.7 1451.7" fill="none" stroke="#231f20" stroke-width="3.5"/>
<text x="300.8" y="1517.2" font-size="29" text-anchor="start" fill="#4ea9dc" >B7.1</text>
<text x="516.4" y="1511.9" font-size="29" text-anchor="start" fill="#231f20" >PD-L1</text>
<line x1="727.5" y1="1304.8" x2="727.5" y2="1664" stroke="#231f20" stroke-width="2.1" />
<line x1="718.5" y1="1664" x2="966.9" y2="1664" stroke="#231f20" stroke-width="2.1" />
<line x1="718.5" y1="1664" x2="727.5" y2="1664" stroke="#231f20" stroke-width="2.1" />
<text x="711" y="1674.6" font-size="29" text-anchor="end" fill="#231f20" >0</text>
<line x1="718.5" y1="1544.7" x2="727.5" y2="1544.7" stroke="#231f20" stroke-width="2.1" />
<text x="711" y="1555.3" font-size="29" text-anchor="end" fill="#231f20" >5</text>
<line x1="718.5" y1="1424.9" x2="727.5" y2="1424.9" stroke="#231f20" stroke-width="2.1" />
<text x="711" y="1435.5" font-size="29" text-anchor="end" fill="#231f20" >10</text>
<line x1="718.5" y1="1305.8" x2="727.5" y2="1305.8" stroke="#231f20" stroke-width="2.1" />
<text x="711" y="1316.4" font-size="29" text-anchor="end" fill="#231f20" >15</text>
<rect x="760.7" y="1425.4" width="54.8" height="238.6" fill="#4b4e50" stroke="#231f20" stroke-width="2"/>
<rect x="880.2" y="1547.2" width="54.3" height="116.8" fill="#c9c9ce" stroke="#231f20" stroke-width="2"/>
<circle cx="774.2" cy="1401.5" r="7.6" fill="#fff" stroke="#231f20" stroke-width="2"/>
<circle cx="801.4" cy="1410.8" r="7.6" fill="#fff" stroke="#231f20" stroke-width="2"/>
<circle cx="787.9" cy="1464.3" r="7.6" fill="#fff" stroke="#231f20" stroke-width="2"/>
<circle cx="906.9" cy="1503.1" r="7.6" fill="#fff" stroke="#231f20" stroke-width="2"/>
<circle cx="920.4" cy="1559.1" r="7.6" fill="#fff" stroke="#231f20" stroke-width="2"/>
<circle cx="893.4" cy="1579.6" r="7.6" fill="#fff" stroke="#231f20" stroke-width="2"/>
<text x="0" y="0" font-size="29" text-anchor="middle" fill="#231f20" transform="translate(655.5,1485.5) rotate(-90)" >TR-FRET Ratio (x10<tspan font-size="23" dy="-14">3</tspan><tspan dy="14">)</tspan></text>
<rect x="641.1" y="1706.2" width="53.4" height="28.1" fill="#4b4e50" stroke="#231f20" stroke-width="2"/>
<rect x="641.1" y="1751.2" width="53.4" height="28.1" fill="#c9c9ce" stroke="#231f20" stroke-width="2"/>
<text x="709.9" y="1731.5" font-size="29" text-anchor="start" fill="#231f20" >Isotype Control</text>
<text x="709.2" y="1773.7" font-size="29" text-anchor="start" fill="#231f20" >Anti-PD-L1 Clone 17H9</text>
</svg></body></html>
